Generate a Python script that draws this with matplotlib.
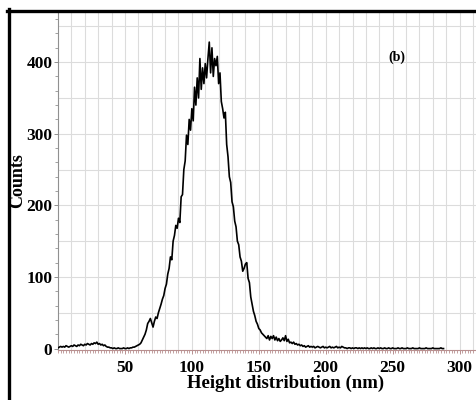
import matplotlib
matplotlib.use('Agg')
import matplotlib.pyplot as plt
from matplotlib.lines import Line2D
from matplotlib.ticker import MultipleLocator

# height histogram, 1 nm bins
height_nm = list(range(0, 289))
counts = [
    # 0-39
    1, 2, 3, 2, 3, 2, 4, 3, 2, 3, 4, 3, 5, 4, 3, 5, 4, 6, 5, 4,
    6, 5, 7, 6, 5, 7, 6, 8, 7, 9, 6, 7, 5, 6, 4, 5, 3, 2, 2, 1,
    # 40-79
    1, 0, 1, 0, 0, 1, 0, 0, 0, 1, 0, 0, 1, 0, 1, 1, 2, 2, 3, 4,
    5, 6, 8, 12, 16, 20, 26, 35, 38, 42, 36, 30, 38, 44, 42, 50, 56, 62, 69, 74,
    # 80-119
    84, 90, 104, 112, 128, 124, 150, 158, 172, 168, 182, 176, 212, 215, 250, 262, 298, 285, 320, 305,
    335, 318, 365, 340, 378, 350, 405, 362, 392, 370, 398, 378, 405, 428, 385, 420, 380, 405, 395, 408,
    # 120-159
    370, 385, 345, 335, 322, 330, 285, 268, 240, 232, 205, 198, 178, 170, 150, 145, 128, 122, 108, 112,
    118, 120, 98, 92, 72, 62, 52, 46, 38, 34, 28, 26, 22, 20, 18, 16, 14, 18, 12, 17,
    # 160-199
    14, 18, 12, 16, 11, 14, 10, 12, 15, 11, 18, 10, 13, 8, 9, 7, 9, 6, 7, 5,
    6, 4, 5, 3, 4, 2, 3, 4, 2, 3, 2, 3, 1, 2, 3, 2, 1, 2, 3, 1,
    # 200-239
    2, 1, 2, 3, 1, 2, 1, 2, 3, 1, 2, 1, 3, 2, 1, 1, 0, 1, 1, 0,
    1, 0, 1, 1, 0, 1, 0, 1, 0, 1, 0, 1, 0, 0, 1, 0, 1, 0, 0, 1,
    # 240-288
    0, 1, 0, 0, 1, 0, 0, 1, 0, 0, 1, 0, 0, 0, 1, 0, 0, 1, 0, 0,
    0, 1, 0, 0, 0, 1, 0, 0, 0, 0, 1, 0, 0, 0, 0, 1, 0, 0, 0, 0,
    1, 0, 0, 0, 0, 0, 1, 0, 0,
]

x_ticks = [50, 100, 150, 200, 250, 300]
y_ticks = [0, 100, 200, 300, 400]

plt.rcParams['font.family'] = ['Liberation Serif', 'DejaVu Serif']
plt.rcParams['font.weight'] = 'bold'

fig = plt.figure(figsize=(4.77, 4.0), dpi=100)
ax = fig.add_axes([58 / 477, 50 / 400, 1 - 58 / 477, 338 / 400])

# light grid: every 10 nm, every 50 counts
for gx in range(10, 320, 10):
    ax.axvline(gx, color='#dcdcdc', lw=0.8, zorder=0)
for gy in range(50, 500, 50):
    ax.axhline(gy, color='#dcdcdc', lw=0.8, zorder=0)

ax.plot(height_nm, counts, color='black', lw=1.2, zorder=3)

ax.set_xlim(0, 313)
ax.set_ylim(-2, 470)
ax.set_xticks(x_ticks)
ax.set_yticks(y_ticks)
ax.xaxis.set_minor_locator(MultipleLocator(2))
ax.yaxis.set_minor_locator(MultipleLocator(20))

for s in ['top', 'right']:
    ax.spines[s].set_visible(False)
ax.spines['left'].set_color('#909090')
ax.spines['left'].set_linewidth(0.8)
ax.spines['bottom'].set_color('#b89090')
ax.spines['bottom'].set_linewidth(0.8)
ax.spines['bottom'].set_linestyle((0, (2, 1)))

ax.tick_params(axis='x', which='major', length=3, width=0.7, color='#b89090', pad=4, labelsize=12.5)
ax.tick_params(axis='x', which='minor', length=2, width=0.6, color='#b89090')
ax.tick_params(axis='y', which='major', length=3, width=0.7, color='#909090', pad=1, labelsize=12.5)
ax.tick_params(axis='y', which='minor', length=2, width=0.6, color='#909090')

ax.set_xlabel('Height distribution (nm)', fontsize=13.5, fontweight='bold')
ax.xaxis.set_label_coords(0.542, -0.073)
ax.set_ylabel('Counts', fontsize=13, fontweight='bold')
ax.yaxis.set_label_coords(-0.077, 0.5)

ax.text(0.809, 0.867, '(b)', transform=ax.transAxes, fontsize=10,
        fontweight='bold', ha='center', va='center')

# black frame on the top and left of the picture
fig.add_artist(Line2D([9 / 477, 9 / 477], [0, 1 - 9 / 400], color='black', lw=2.4))
fig.add_artist(Line2D([7 / 477, 1], [1 - 10.5 / 400, 1 - 10.5 / 400], color='black', lw=2.4))

fig.savefig('out.png', dpi=100)
